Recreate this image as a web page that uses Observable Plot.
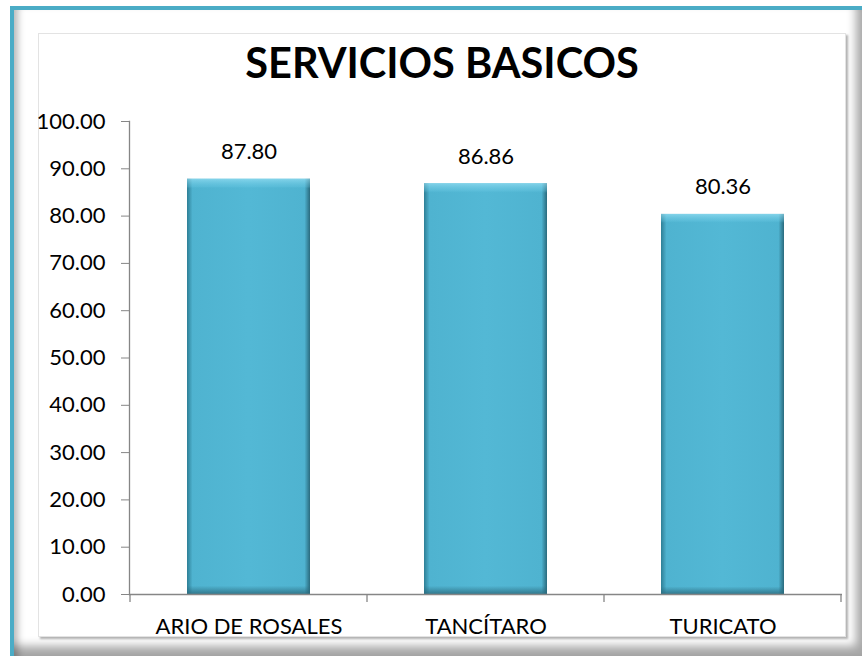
<!DOCTYPE html>
<html>
<head>
<meta charset="utf-8">
<script src="https://cdn.jsdelivr.net/npm/d3@7"></script>
<script src="https://cdn.jsdelivr.net/npm/@observablehq/plot@0.6"></script>
<style>
  html, body { margin: 0; padding: 0; background: #fff; }
  #wrap { position: relative; width: 862px; height: 656px; overflow: hidden; background: #fff; font-family: Lato, "Open Sans", sans-serif; }
  .abs { position: absolute; }
  #tealL { left: 10px; top: 6px; width: 4px; height: 650px; background: #4BACC6; }
  #tealT { left: 10px; top: 6px; width: 852px; height: 4px; background: #4BACC6; }
  #bevel { left: 14px; top: 10px; width: 848px; height: 646px;
    box-shadow: inset 9px 0 7px -5px rgba(0,0,0,0.28), inset -12px -16px 10px -6px rgba(0,0,0,0.35); }
  #inner { left: 38px; top: 33px; width: 806px; height: 602px; border: 1px solid #E3E3E3;
    box-shadow: 2px 2px 2px rgba(0,0,0,0.3); background: #fff; }
  #title { left: 0; top: 39px; width: 884px; text-align: center; font-family: Lato, sans-serif; font-weight: 700;
    font-size: 41.5px; line-height: 46px; color: #000; letter-spacing: 0px; }
  #chart { left: 0; top: 0; }
</style>
</head>
<body>
<div id="wrap">
  <div class="abs" id="bevel"></div>
  <div class="abs" id="tealL"></div>
  <div class="abs" id="tealT"></div>
  <div class="abs" id="inner"></div>
  <div class="abs" id="title">SERVICIOS BASICOS</div>
  <div class="abs" id="chart"></div>
</div>
<script>
const categories = ["ARIO DE ROSALES", "TANCÍTARO", "TURICATO"];
const values = [87.80, 86.86, 80.36];
const yTicks = [0, 10, 20, 30, 40, 50, 60, 70, 80, 90, 100];

const data = categories.map((c, i) => ({category: c, value: values[i]}));
const fmt = d3.format(".2f");

const defs = () => {
  const d = d3.create("svg:defs");
  const h = d.append("linearGradient").attr("id", "hgrad").attr("x1", 0).attr("x2", 1).attr("y1", 0).attr("y2", 0);
  h.append("stop").attr("offset", "0%").attr("stop-color", "#2E7F96");
  h.append("stop").attr("offset", "4.5%").attr("stop-color", "#4FB3D0");
  h.append("stop").attr("offset", "50%").attr("stop-color", "#53B8D5");
  h.append("stop").attr("offset", "95.5%").attr("stop-color", "#4FB3D0");
  h.append("stop").attr("offset", "100%").attr("stop-color", "#2A6A7D");
  const v = d.append("linearGradient").attr("id", "vgrad").attr("x1", 0).attr("x2", 0).attr("y1", 0).attr("y2", 1);
  v.append("stop").attr("offset", "0%").attr("stop-color", "#A6E8FA").attr("stop-opacity", 0.6);
  v.append("stop").attr("offset", "1.9%").attr("stop-color", "#74D0EA").attr("stop-opacity", 0.25);
  v.append("stop").attr("offset", "2.4%").attr("stop-color", "#53B8D5").attr("stop-opacity", 0);
  v.append("stop").attr("offset", "98%").attr("stop-color", "#2A6A7D").attr("stop-opacity", 0);
  v.append("stop").attr("offset", "100%").attr("stop-color", "#2A6A7D").attr("stop-opacity", 0.8);
  return d.node();
};

const plot = Plot.plot({
  width: 862,
  height: 656,
  marginLeft: 129,
  marginRight: 20,
  marginTop: 121,
  marginBottom: 62,
  style: {fontFamily: "Lato, 'Open Sans', sans-serif", fontSize: "22px", color: "#000", background: "transparent"},
  x: {domain: categories, paddingInner: 0.48, paddingOuter: 0.24, label: null},
  y: {domain: [0, 100], label: null},
  marks: [
    defs,
    Plot.barY(data, {x: "category", y: "value", fill: "url(#hgrad)"}),
    Plot.barY(data, {x: "category", y: "value", fill: "url(#vgrad)"}),
    Plot.ruleY([0], {stroke: "#868686", strokeWidth: 1.3}),
    Plot.frame({anchor: "left", stroke: "#868686", strokeWidth: 1.3}),
    Plot.axisY({ticks: yTicks, tickFormat: fmt, tickSize: 8, tickPadding: 16, stroke: "#868686", fill: "#000", fontSize: 22, label: null}),
    Plot.axisX({tickSize: 0, tickPadding: 24, fill: "#000", fontSize: 22, label: null}),
    Plot.text(data, {x: "category", y: "value", text: d => fmt(d.value), dy: -27, fontSize: 22, fill: "#000"})
  ]
});

// Category boundary ticks on the x axis, positioned with the plot's own scales
const xs = plot.scale("x");
const ys = plot.scale("y");
const y0 = ys.apply(0);
const gap = xs.step - xs.bandwidth;
const bounds = categories.map(c => xs.apply(c) - gap / 2);
bounds.push(xs.apply(categories[categories.length - 1]) + xs.bandwidth + gap / 2);
d3.select(plot).append("g").selectAll("line").data(bounds).join("line")
  .attr("x1", d => d).attr("x2", d => d)
  .attr("y1", y0).attr("y2", y0 + 8)
  .attr("stroke", "#868686").attr("stroke-width", 1.3);

document.getElementById("chart").appendChild(plot);
</script>
</body>
</html>
